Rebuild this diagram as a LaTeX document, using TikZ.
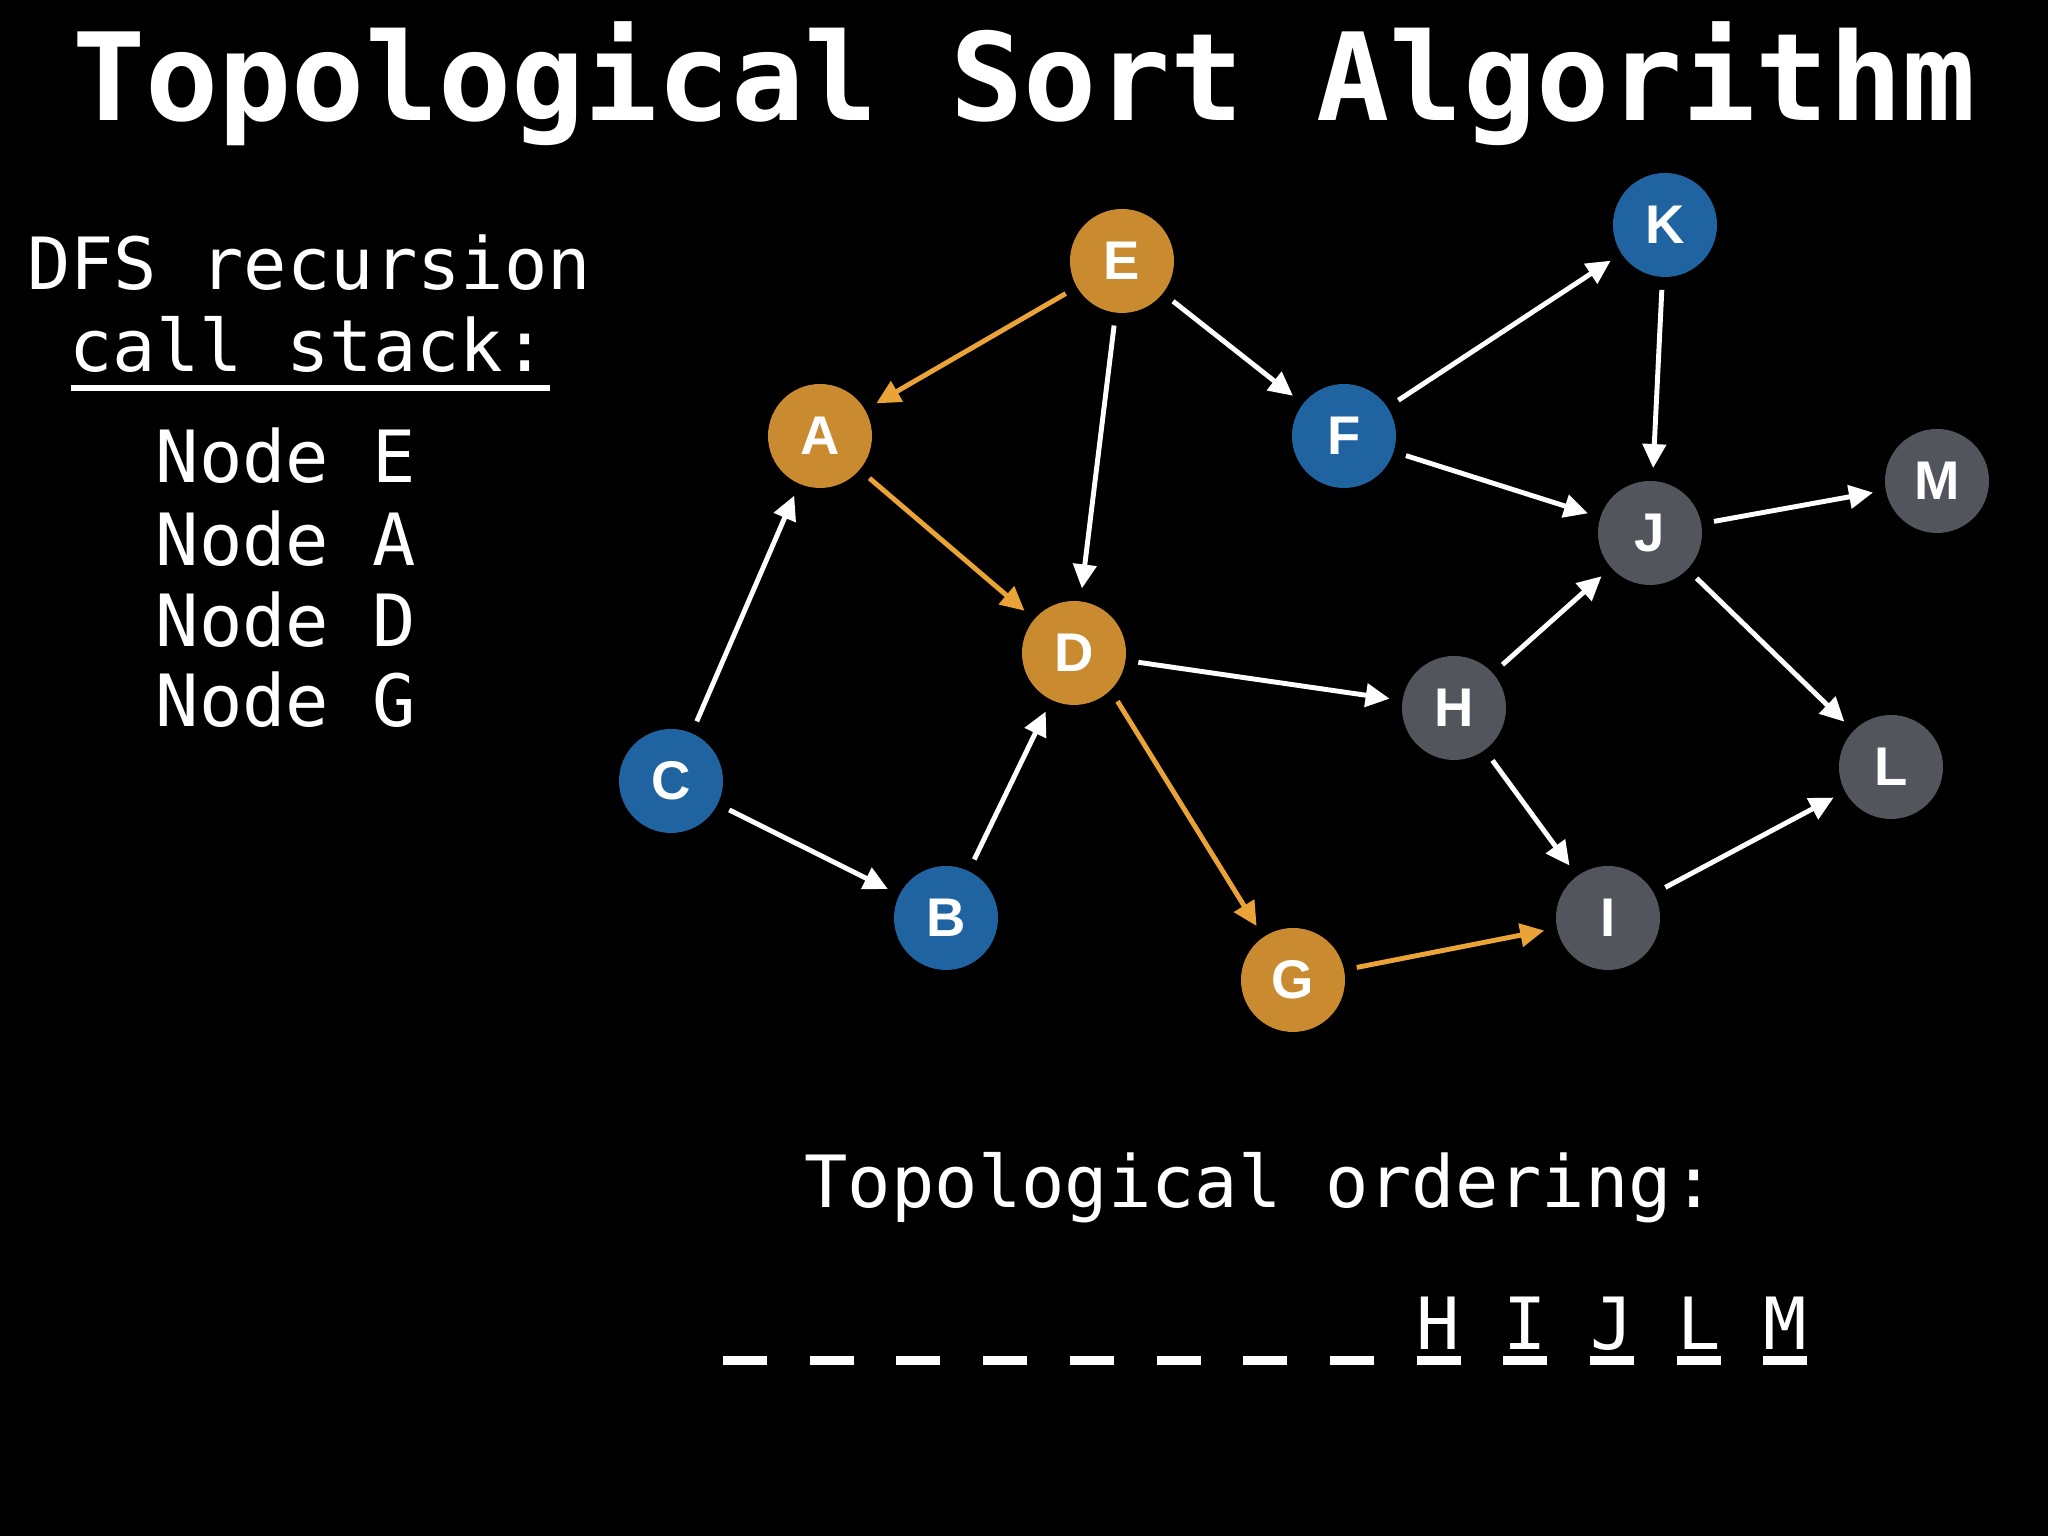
\documentclass[tikz,border=0pt]{standalone}
\usepackage{fontspec}
\setmonofont{DejaVu Sans Mono}
\newfontfamily\vertfont{Liberation Sans}
\usetikzlibrary{arrows.meta}
\definecolor{cact}{HTML}{C98A30}
\definecolor{cactl}{HTML}{E9A336}
\definecolor{cnew}{HTML}{1F64A1}
\definecolor{cdone}{HTML}{52565C}
\tikzset{
  vert/.style={circle, minimum size=1.04cm, inner sep=0pt, outer sep=0.13cm, text=white, font=\vertfont\bfseries\fontsize{15.5}{15.5}\selectfont},
  act/.style={vert, fill=cact},
  unv/.style={vert, fill=cnew},
  fin/.style={vert, fill=cdone},
  pre/.style={-{Triangle[length=2.4mm, width=2.3mm]}, line width=1.4pt, draw=white},
  trail/.style={pre, draw=cactl},
  mono/.style={font=\ttfamily\fontsize{20.5}{24}\selectfont, text=white, inner sep=0pt},
  slot/.style={line width=0.09cm, draw=white},
}
\begin{document}
\begin{tikzpicture}[x=1cm,y=1cm]
\fill[black] (0,0) rectangle (20.48,15.36);
\useasboundingbox (0,0) rectangle (20.48,15.36);
\node[anchor=base, text=white, inner sep=0pt, font=\ttfamily\bfseries\fontsize{34.6}{40}\selectfont] (title) at (10.24,14.15) {Topological Sort Algorithm};
% call stack
\node[mono, anchor=base] (hd1) at (3.09,12.46) {DFS recursion};
\node[mono, anchor=base] (hd2) at (3.08,11.64) {call stack:};
\draw[white, line width=0.065cm] (0.71,11.48) -- (5.50,11.48);
\foreach \v/\y [count=\i] in {E/10.53, A/9.70, D/8.89, G/8.09}
  \node[mono, anchor=base west] (st\i) at (1.55,\y) {Node \v};
% graph
\node[act] (e) at (11.22,12.75) {E};
\node[act] (a) at (8.20,11.00) {A};
\node[unv] (f) at (13.44,11.00) {F};
\node[unv] (k) at (16.65,13.11) {K};
\node[fin] (m) at (19.37,10.55) {M};
\node[fin] (j) at (16.50,10.03) {J};
\node[act] (d) at (10.74,8.83) {D};
\node[fin] (h) at (14.54,8.28) {H};
\node[fin] (l) at (18.91,7.69) {L};
\node[unv] (c) at (6.71,7.55) {C};
\node[unv] (b) at (9.46,6.18) {B};
\node[fin] (i) at (16.08,6.18) {I};
\node[act] (g) at (12.93,5.56) {G};
\draw[trail] (e) -- (a);
\draw[trail] (a) -- (d);
\draw[trail] (d.-48) -- (g.124);
\draw[trail] (g) -- (i);
\draw[pre] (e) -- (d);
\draw[pre] (e) -- (f);
\draw[pre] (c) -- (a);
\draw[pre] (c) -- (b);
\draw[pre] (b) -- (d);
\draw[pre] (d) -- (h);
\draw[pre] (h) -- (j);
\draw[pre] (h) -- (i);
\draw[pre] (f) -- (k);
\draw[pre] (f) -- (j);
\draw[pre] (k) -- (j);
\draw[pre] (j) -- (m);
\draw[pre] (j) -- (l);
\draw[pre] (i) -- (l);
% ordering
\node[mono, anchor=base] (ordhd) at (12.60,3.28) {Topological ordering:};
\foreach \i in {0,...,12}
  \draw[slot] ({7.23+0.867*\i},1.75) -- ++(0.44,0);
\foreach \v [count=\i from 8] in {H,I,J,L,M}
  \node[mono, anchor=base] (ord\v) at ({7.45+0.867*\i},1.86) {\v};
\end{tikzpicture}
\end{document}
